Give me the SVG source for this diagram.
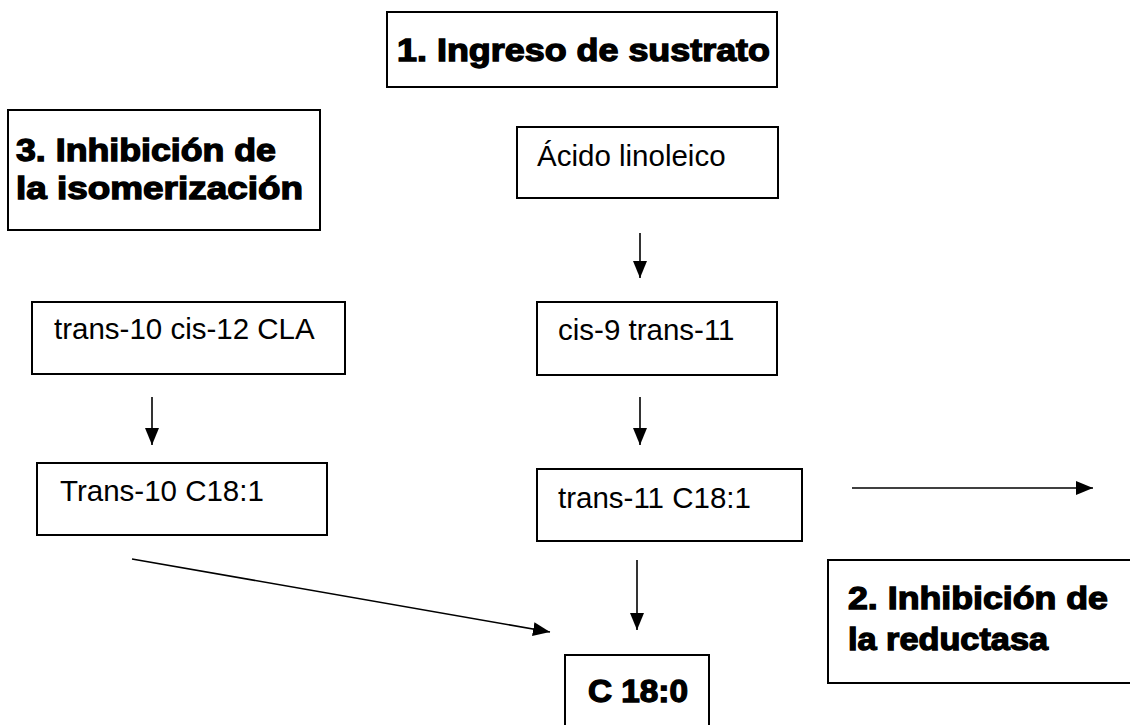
<svg xmlns="http://www.w3.org/2000/svg" width="1130" height="725" viewBox="0 0 1130 725">
<defs>
<style>
.box{fill:#fff;stroke:#000;stroke-width:2}
.t{font-family:"Liberation Sans",Arial,sans-serif;font-size:29.5px;fill:#000}
.b{font-family:"Liberation Sans",Arial,sans-serif;font-size:31px;font-weight:bold;fill:#000;stroke:#000;stroke-width:1.3}
.c{stroke:#000;stroke-width:1.6;fill:none;marker-end:url(#ah)}
</style>
<marker id="ah" viewBox="0 0 17 14" refX="17" refY="7" markerWidth="17" markerHeight="14" markerUnits="userSpaceOnUse" orient="auto">
<path d="M0,0 L17,7 L0,14 Z" fill="#000"/>
</marker>
</defs>
<rect width="1130" height="725" fill="#fff"/>
<g id="n-ingreso">
<rect class="box" x="387" y="12" width="390" height="75"/>
<text class="b" x="397" y="61" textLength="373" lengthAdjust="spacingAndGlyphs">1. Ingreso de sustrato</text>
</g>
<g id="n-isomerizacion">
<rect class="box" x="8" y="110" width="312" height="120"/>
<text class="b" x="16" y="161" textLength="260" lengthAdjust="spacingAndGlyphs">3. Inhibición de</text>
<text class="b" x="16" y="199" textLength="287" lengthAdjust="spacingAndGlyphs">la isomerización</text>
</g>
<g id="n-acido">
<rect class="box" x="517" y="127" width="261" height="71"/>
<text class="t" x="537" y="166">Ácido linoleico</text>
</g>
<g id="n-cis9">
<rect class="box" x="537" y="302" width="240" height="73"/>
<text class="t" x="558" y="340">cis-9 trans-11</text>
</g>
<g id="n-cla">
<rect class="box" x="32" y="302" width="313" height="72"/>
<text class="t" x="54" y="339">trans-10 cis-12 CLA</text>
</g>
<g id="n-t10">
<rect class="box" x="37" y="463" width="290" height="72"/>
<text class="t" x="60" y="501">Trans-10 C18:1</text>
</g>
<g id="n-t11">
<rect class="box" x="537" y="469" width="265" height="72"/>
<text class="t" x="558" y="508">trans-11 C18:1</text>
</g>
<g id="n-reductasa">
<rect class="box" x="828" y="560" width="320" height="123"/>
<text class="b" x="848" y="609" textLength="260" lengthAdjust="spacingAndGlyphs">2. Inhibición de</text>
<text class="b" x="848" y="650" textLength="200" lengthAdjust="spacingAndGlyphs">la reductasa</text>
</g>
<g id="n-c180">
<rect class="box" x="565" y="655" width="144" height="85"/>
<text class="b" x="588" y="702" textLength="100" lengthAdjust="spacingAndGlyphs">C 18:0</text>
</g>
<g id="connectors">
<line class="c" x1="640" y1="233" x2="640" y2="278"/>
<line class="c" x1="152" y1="397" x2="152" y2="445"/>
<line class="c" x1="640" y1="397" x2="640" y2="445"/>
<line class="c" x1="852" y1="488" x2="1093" y2="488"/>
<line class="c" x1="637" y1="560" x2="637" y2="630"/>
<line class="c" x1="132" y1="559" x2="550" y2="632"/>
</g>
</svg>
